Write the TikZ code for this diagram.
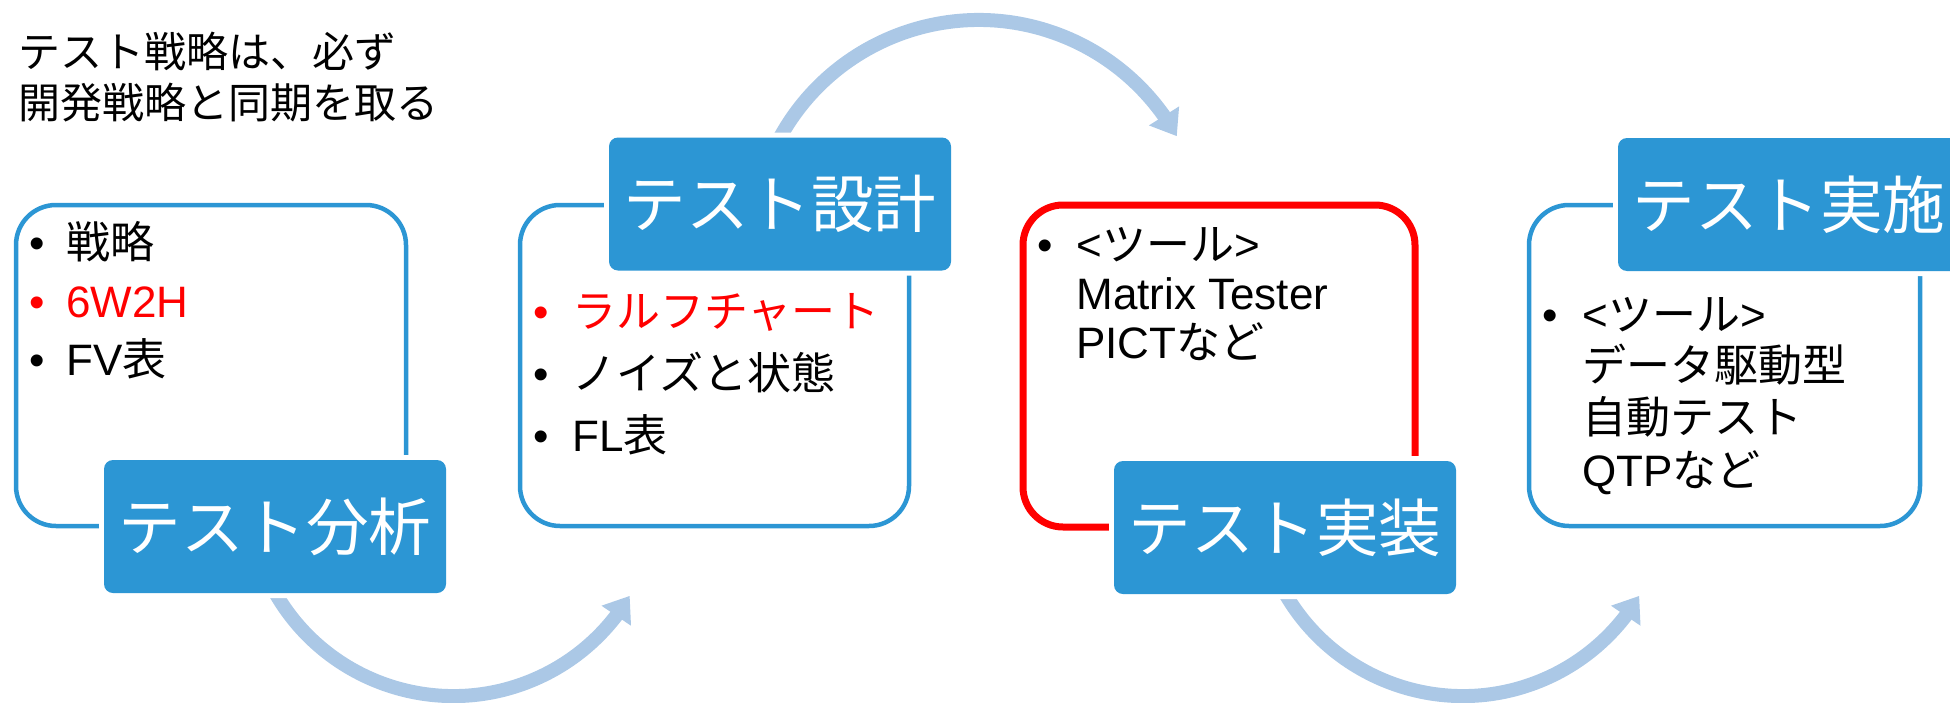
\documentclass[tikz,border=0pt]{standalone}
\usepackage{fontspec}
\setmainfont{Liberation Sans}
\newfontfamily\jp{Noto Sans CJK JP}
\usetikzlibrary{arrows.meta,bending}
\definecolor{mblue}{HTML}{2C96D4}
\definecolor{larrow}{HTML}{ABC8E6}
\definecolor{mred}{HTML}{FF0000}
\begin{document}
\begin{tikzpicture}[x=0.5pt,y=-0.5pt,
  frameblue/.style={draw=mblue, line width=2.25pt, rounded corners=20pt, inner sep=0pt},
  framered/.style={draw=mred, line width=3.5pt, rounded corners=20pt, inner sep=0pt},
  stagebox/.style={fill=mblue, preaction={draw=white, line width=5pt}, rounded corners=4.5pt,
    minimum width=171pt, minimum height=66.5pt, inner sep=0pt, text=white,
    font=\jp\fontsize{31.3pt}{36pt}\selectfont},
  itemtext/.style={anchor=base west, inner sep=0pt, font=\fontsize{22pt}{26pt}\selectfont},
  bulletmark/.style={anchor=base, inner sep=0pt, font=\fontsize{22pt}{26pt}\selectfont},
  titletext/.style={anchor=base west, inner sep=0pt, font=\jp\fontsize{21pt}{25pt}\selectfont},
  cyclearrow/.style={draw=larrow, line width=7pt, -{Triangle[length=12pt,width=17pt]}},
]
\useasboundingbox (0,0) rectangle (1950,702);

% title
\node[titletext] (t1) at (18,67) {テスト戦略は、必ず};
\node[titletext] (t2) at (18,118.5) {開発戦略と同期を取る};

% outline boxes
\node[frameblue, minimum width=195pt, minimum height=160.5pt] (b1) at (211,365.5) {};
\node[frameblue, minimum width=194.5pt, minimum height=160.5pt] (b2) at (714.5,365.5) {};
\node[framered, minimum width=196pt, minimum height=161pt] (b3) at (1219,366) {};
\node[frameblue, minimum width=195.5pt, minimum height=160.5pt] (b4) at (1724.5,365.5) {};

% cycle arrows
\coordinate (a1s) at (267.3,577.5);
\coordinate (a2s) at (773.1,151.0);
\coordinate (a3s) at (1276.8,577.5);
\draw[cyclearrow] (a1s) arc[start angle=205, end angle=329.2, radius=102.65pt];
\draw[cyclearrow] (a2s) arc[start angle=155, end angle=29.2, radius=113.45pt];
\draw[cyclearrow] (a3s) arc[start angle=205, end angle=329.2, radius=102.65pt];

% stage labels
\node[stagebox] (s1) at (275,526.5) {テスト分析};
\node[stagebox] (s2) at (780,204) {テスト設計};
\node[stagebox] (s3) at (1285,527.5) {テスト実装};
\node[stagebox] (s4) at (1789,204.5) {テスト実施};

% box 1 items
\node[bulletmark] (p1a) at (37,258) {•};
\node[itemtext] (i1a) at (66,258) {\jp 戦略};
\node[bulletmark, text=mred] (p1b) at (37,317) {•};
\node[itemtext, text=mred] (i1b) at (66,317) {6W2H};
\node[bulletmark] (p1c) at (37,375) {•};
\node[itemtext] (i1c) at (66,375) {FV{\jp 表}};

% box 2 items
\node[bulletmark, text=mred] (p2a) at (541,327) {•};
\node[itemtext, text=mred] (i2a) at (572,327) {\jp ラルフチャート};
\node[bulletmark] (p2b) at (541,389) {•};
\node[itemtext] (i2b) at (572,389) {\jp ノイズと状態};
\node[bulletmark] (p2c) at (541,451) {•};
\node[itemtext] (i2c) at (572,451) {FL{\jp 表}};

% box 3 items
\node[bulletmark] (p3a) at (1045,260) {•};
\node[itemtext] (i3a) at (1076,260) {<{\jp ツール}>};
\node[itemtext] (i3b) at (1076,309) {Matrix Tester};
\node[itemtext] (i3c) at (1076,358) {PICT{\jp など}};

% box 4 items
\node[bulletmark] (p4a) at (1550,330) {•};
\node[itemtext] (i4a) at (1582,330) {<{\jp ツール}>};
\node[itemtext] (i4b) at (1582,381.5) {\jp データ駆動型};
\node[itemtext] (i4c) at (1582,433) {\jp 自動テスト};
\node[itemtext] (i4d) at (1582,486) {QTP{\jp など}};
\end{tikzpicture}
\end{document}
